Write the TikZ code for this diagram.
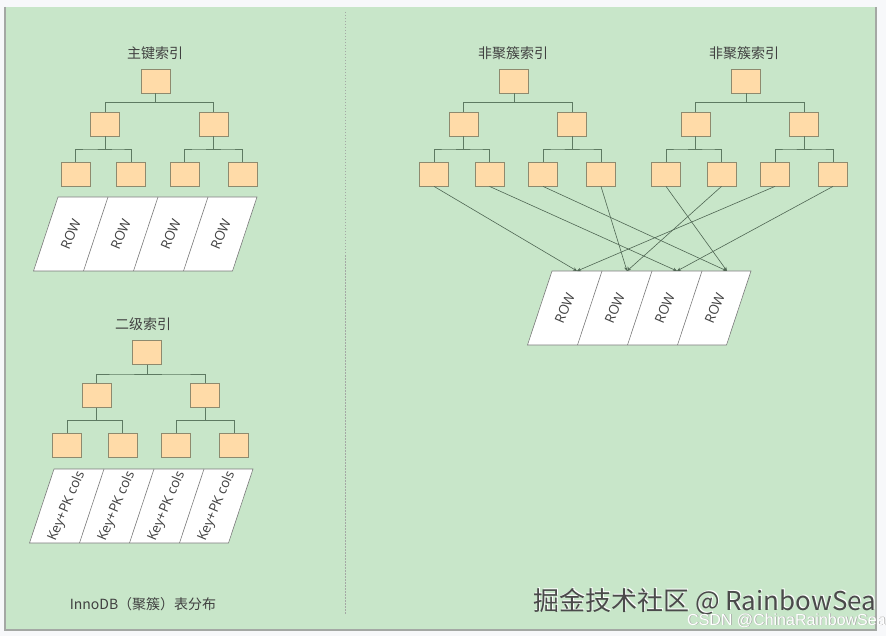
\documentclass[tikz,border=0pt]{standalone}
\usepackage{fontspec}
\setmainfont{Liberation Sans}
\newfontfamily\cjk{Noto Sans CJK SC}
\newfontfamily\cellfont{Open Sans}
\usetikzlibrary{calc,arrows.meta}
\definecolor{pagewhite}{HTML}{F7F8FA}
\definecolor{bggreen}{HTML}{C8E6C9}
\definecolor{bordergray}{HTML}{A4A8A4}
\definecolor{boxfill}{HTML}{FFDBA8}
\definecolor{boxline}{HTML}{8E8A6E}
\definecolor{treecol}{HTML}{5E7A62}
\definecolor{arrcol}{HTML}{4F6653}
\definecolor{titlecol}{HTML}{404040}
\definecolor{cellline}{HTML}{7A7A7A}
\definecolor{wmdark}{HTML}{4A4A4A}
\tikzset{
  keybox/.style={draw=boxline, fill=boxfill, minimum width=29pt, minimum height=24pt, inner sep=0pt, line width=0.8pt},
  titletext/.style={font=\cjk\fontsize{14}{14}\selectfont, text=titlecol, inner sep=0pt},
  treeline/.style={draw=treecol, line width=0.8pt},
  ptr/.style={draw=arrcol, line width=0.6pt, -{Stealth[length=4pt,width=3.5pt]}},
  celltext/.style={font=\cellfont\fontsize{13.5}{13.5}\selectfont, text=titlecol, rotate=67, inner sep=0pt},
  stripline/.style={draw=cellline, line width=0.6pt}
}
\newcommand\btree[5]{%
  \node[titletext] (#1t) at (#5,#3-28) {#4};
  \node[keybox] (#1r) at (#2,#3) {};
  \node[keybox] (#1a) at (#2-50.5,#3+43) {};
  \node[keybox] (#1b) at (#2+58,#3+43) {};
  \node[keybox] (#11) at (#2-80,#3+93) {};
  \node[keybox] (#12) at (#2-24.5,#3+93) {};
  \node[keybox] (#13) at (#2+29,#3+93) {};
  \node[keybox] (#14) at (#2+87,#3+93) {};
  \foreach \p/\c in {r/a,r/b,a/1,a/2,b/3,b/4}
    \draw[treeline] (#1\p.south) |- ($(#1\p.south)!.5!(#1\c.north)$) -| (#1\c.north);
}
\newcommand\rowstrip[4]{% prefix, top-left x, top y, text
  \filldraw[stripline, fill=white] (#2,#3) -- (#2+199,#3) -- (#2+174.5,#3+74) -- (#2-24.5,#3+74) -- cycle;
  \foreach \i in {1,2,3}
    \draw[stripline] (#2+50*\i,#3) -- (#2+50*\i-24.5,#3+74);
  \foreach \i in {1,2,3,4} {
    \coordinate (#1p\i) at (#2+50*\i-25,#3);
    \node[celltext] (#1c\i) at (#2+50*\i-37.25,#3+37) {#4};
  }
}
\begin{document}
\begin{tikzpicture}[x=1pt,y=-1pt]
\useasboundingbox (0,0) rectangle (886,636);
\fill[pagewhite] (0,0) rectangle (886,636);
\fill[bggreen] (5,7) rectangle (876,630);
\draw[bordergray, line width=1.5pt] (5,7) -- (5,630) -- (876,630) -- (876,7);
\draw[bordergray, line width=0.7pt, dash pattern=on 1.5pt off 1.5pt] (345,12) -- (345,615);

% left: clustered primary index
\btree{A}{155.5}{81}{主键索引}{155}
\rowstrip{PA}{58}{197}{ROW}

% left: secondary index
\btree{B}{147}{352.5}{二级索引}{143}
\rowstrip{PB}{54}{469}{Key+PK cols}

\node[font=\cjk\fontsize{14}{14}\selectfont, text=titlecol, inner sep=0pt] (inno) at (143,604) {InnoDB（聚簇）表分布};

% right: two non-clustered indexes
\btree{C}{514}{81}{非聚簇索引}{513}
\btree{D}{746}{81}{非聚簇索引}{744}
\rowstrip{PC}{552}{271}{ROW}

\foreach \s/\t in {C1/PCp1, C2/PCp3, C3/PCp4, C4/PCp2, D1/PCp4, D2/PCp2, D3/PCp1, D4/PCp3}
  \draw[ptr] (\s.south) -- (\t);

% watermarks
\node[anchor=west, inner sep=0pt, font=\cjk\fontsize{26}{26}\selectfont, text=white] (wmw) at (534,601) {掘金技术社区 @ RainbowSea};
\node[anchor=west, inner sep=0pt, font=\cjk\fontsize{26}{26}\selectfont, text=wmdark] (wm) at (533,602) {掘金技术社区 @ RainbowSea};
\node[anchor=base west, inner sep=0pt, font=\fontsize{16}{16}\selectfont, text=gray!70] (csdns) at (687.7,625.7) {CSDN @ChinaRainbowSea};
\node[anchor=base west, inner sep=0pt, font=\fontsize{16}{16}\selectfont, text=white] (csdn) at (687,625) {CSDN @ChinaRainbowSea};
\end{tikzpicture}
\end{document}
